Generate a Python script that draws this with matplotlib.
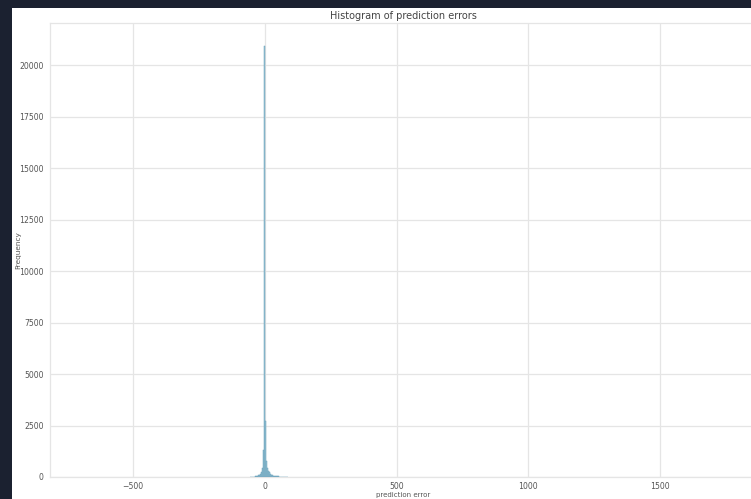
import matplotlib
matplotlib.use("Agg")
from matplotlib import pyplot as plt
from matplotlib.patches import Rectangle
import numpy as np

# histogram counts per bin, bins are bin_width wide, offset 0 is centred on zero
bin_width = 3.8
bin_offsets = list(range(-14, 24))
counts = [5, 8, 10, 15, 20, 30, 40, 55, 75, 100, 150, 250, 450, 1300,
          20900, 2700, 800, 450, 300, 220, 160, 120, 90, 70, 55, 45, 35,
          30, 25, 20, 15, 12, 10, 8, 6, 5, 4, 3]

x_ticks = [-500, 0, 500, 1000, 1500]
y_ticks = [0, 2500, 5000, 7500, 10000, 12500, 15000, 17500, 20000]

plt.rcParams["font.family"] = ["Liberation Sans Narrow", "DejaVu Sans"]

fig = plt.figure(figsize=(7.51, 4.99), dpi=100, facecolor="#1b2130")
# white page behind the plot
fig.patches.append(Rectangle((12 / 751, 0), 1, 1 - 8 / 499, transform=fig.transFigure,
                             facecolor="white", edgecolor="none", zorder=-10))

# the plot runs on just past the right edge of the saved image
ax = fig.add_axes([50 / 751, 1 - 477 / 499, (756 - 50) / 751, (477 - 23) / 499])
ax.set_facecolor("white")

centers = np.array(bin_offsets) * bin_width
ax.bar(centers, counts, width=bin_width, align="center",
       color="#9cc5d8", edgecolor="#6aa2bb", linewidth=0.35, zorder=3)

ax.set_xlim(-815, 1864)
ax.set_ylim(0, 22040)
ax.set_xticks(x_ticks)
ax.set_yticks(y_ticks)
ax.set_xticklabels(["\u2212500", "0", "500", "1000", "1500"])
ax.grid(True, color="#e5e5e5", linewidth=0.9, zorder=0)
ax.set_axisbelow(True)
for s in ax.spines.values():
    s.set_color("#e5e5e5")
    s.set_linewidth(0.9)
ax.tick_params(length=0, labelsize=5.6, labelcolor="#555555", pad=4.5)
ax.tick_params(axis="x", pad=3.5)

ax.set_title("Histogram of prediction errors", fontsize=7, color="#444444", pad=3)
ax.set_xlabel("prediction error", fontsize=5, color="#555555")
ax.set_ylabel("Frequency", fontsize=5.3, color="#555555")
ax.xaxis.set_label_coords(0.5, -0.033)
ax.yaxis.set_label_coords(-0.041, 0.5)

fig.savefig("out.png", dpi=100, facecolor=fig.get_facecolor())
